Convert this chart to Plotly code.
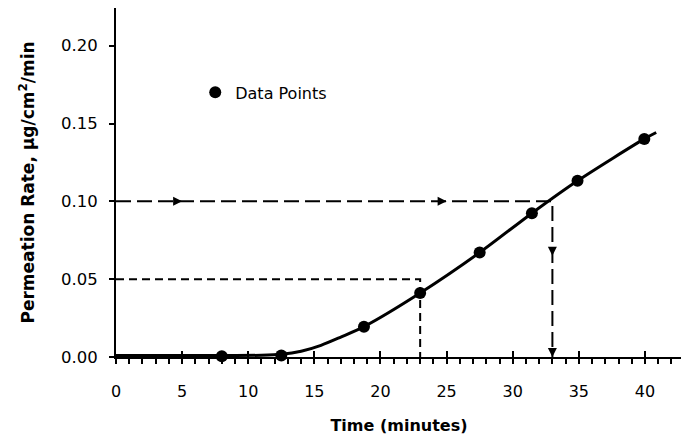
import plotly.graph_objects as go

# Measured data points
time_pts = [8.0, 12.5, 18.75, 23.0, 27.5, 31.45, 34.9, 39.95]
rate_pts = [0.0005, 0.001, 0.0195, 0.0411, 0.0671, 0.0924, 0.1132, 0.1401]

# Fitted curve
curve_t = [0.0, 8.0, 11.0, 12.5, 14.0, 15.5, 17.0, 18.75, 23.0, 27.5, 31.45, 34.9, 39.95, 40.85]
curve_r = [0.001, 0.001, 0.0011, 0.0017, 0.0037, 0.0075, 0.0128, 0.0195, 0.0411, 0.0671, 0.0924, 0.1132, 0.1401, 0.1442]

# Guide lines
guide10_x = [0.0, 33.0, 33.0]
guide10_y = [0.10, 0.10, 0.0]
guide05_x = [0.0, 23.0, 23.0]
guide05_y = [0.05, 0.05, 0.0]

# Arrow heads
arrow_r_x = [5.0, 25.0]
arrow_r_y = [0.10, 0.10]
arrow_d_x = [33.0, 33.0]
arrow_d_y = [0.065, 0.0]

x_range = [0, 42.8]
y_range = [0, 0.2242]
x_ticks = [0, 5, 10, 15, 20, 25, 30, 35, 40]
y_ticks = [0.00, 0.05, 0.10, 0.15, 0.20]
y_ticklabels = ["0.00", "0.05", "0.10", "0.15", "0.20"]

FONT = "DejaVu Sans"

fig = go.Figure()

fig.add_trace(go.Scatter(x=guide05_x, y=guide05_y, mode="lines",
                         line=dict(color="black", width=2, dash="8px,5px"),
                         showlegend=False, hoverinfo="skip", cliponaxis=False))
fig.add_trace(go.Scatter(x=guide10_x, y=guide10_y, mode="lines",
                         line=dict(color="black", width=2, dash="15px,6px"),
                         showlegend=False, hoverinfo="skip", cliponaxis=False))
fig.add_trace(go.Scatter(x=arrow_r_x, y=arrow_r_y, mode="markers",
                         marker=dict(symbol="arrow-right", size=9, color="black"),
                         showlegend=False, hoverinfo="skip", cliponaxis=False))
fig.add_trace(go.Scatter(x=arrow_d_x, y=arrow_d_y, mode="markers",
                         marker=dict(symbol="arrow-down", size=9, color="black"),
                         showlegend=False, hoverinfo="skip", cliponaxis=False))
fig.add_trace(go.Scatter(x=curve_t, y=curve_r, mode="lines",
                         line=dict(color="black", width=3, shape="spline", smoothing=0.8),
                         showlegend=False, hoverinfo="skip", cliponaxis=False))
fig.add_trace(go.Scatter(x=time_pts, y=rate_pts, mode="markers", name="Data Points",
                         marker=dict(symbol="circle", size=12, color="black"),
                         cliponaxis=False))
# helper trace for the overlay axis (inside tick marks)
fig.add_trace(go.Scatter(x=[None], y=[None], xaxis="x2", showlegend=False, hoverinfo="skip"))

fig.update_layout(
    width=681, height=437,
    margin=dict(l=108, r=7, t=0, b=88),
    paper_bgcolor="white", plot_bgcolor="white",
    font=dict(family=FONT, color="black", size=16),
    showlegend=True,
    legend=dict(x=0.14, y=0.758, xanchor="left", yanchor="middle",
                bgcolor="rgba(0,0,0,0)", font=dict(size=16, family=FONT),
                itemwidth=30),
    xaxis=dict(range=x_range, tickvals=x_ticks, ticks="outside", ticklen=5, tickwidth=2,
               tickcolor="black", showline=True, linecolor="black", linewidth=2,
               showgrid=False, zeroline=False, tickfont=dict(size=16),
               ticklabelstandoff=14, automargin=False,
               minor=dict(dtick=1, ticks="outside", ticklen=5, tickwidth=1.5, tickcolor="black"),
               title=dict(text="<b>Time (minutes)</b>", font=dict(size=16), standoff=20)),
    xaxis2=dict(range=x_range, tickvals=x_ticks, ticks="inside", ticklen=6, tickwidth=2,
                tickcolor="black", overlaying="x", anchor="y", side="bottom",
                showticklabels=False, showgrid=False, zeroline=False, showline=False,
                automargin=False),
    yaxis=dict(range=y_range, tickvals=y_ticks, ticktext=y_ticklabels, ticks="outside",
               ticklen=5, tickwidth=2, tickcolor="black", showline=True, linecolor="black",
               linewidth=2, showgrid=False, zeroline=False, tickfont=dict(size=16.5),
               ticklabelstandoff=8, automargin=False,
               title=dict(text="<b>Permeation Rate, µg/cm<sup>2</sup>/min</b>",
                          font=dict(size=17), standoff=22)),
)

fig.write_html("out.html")
